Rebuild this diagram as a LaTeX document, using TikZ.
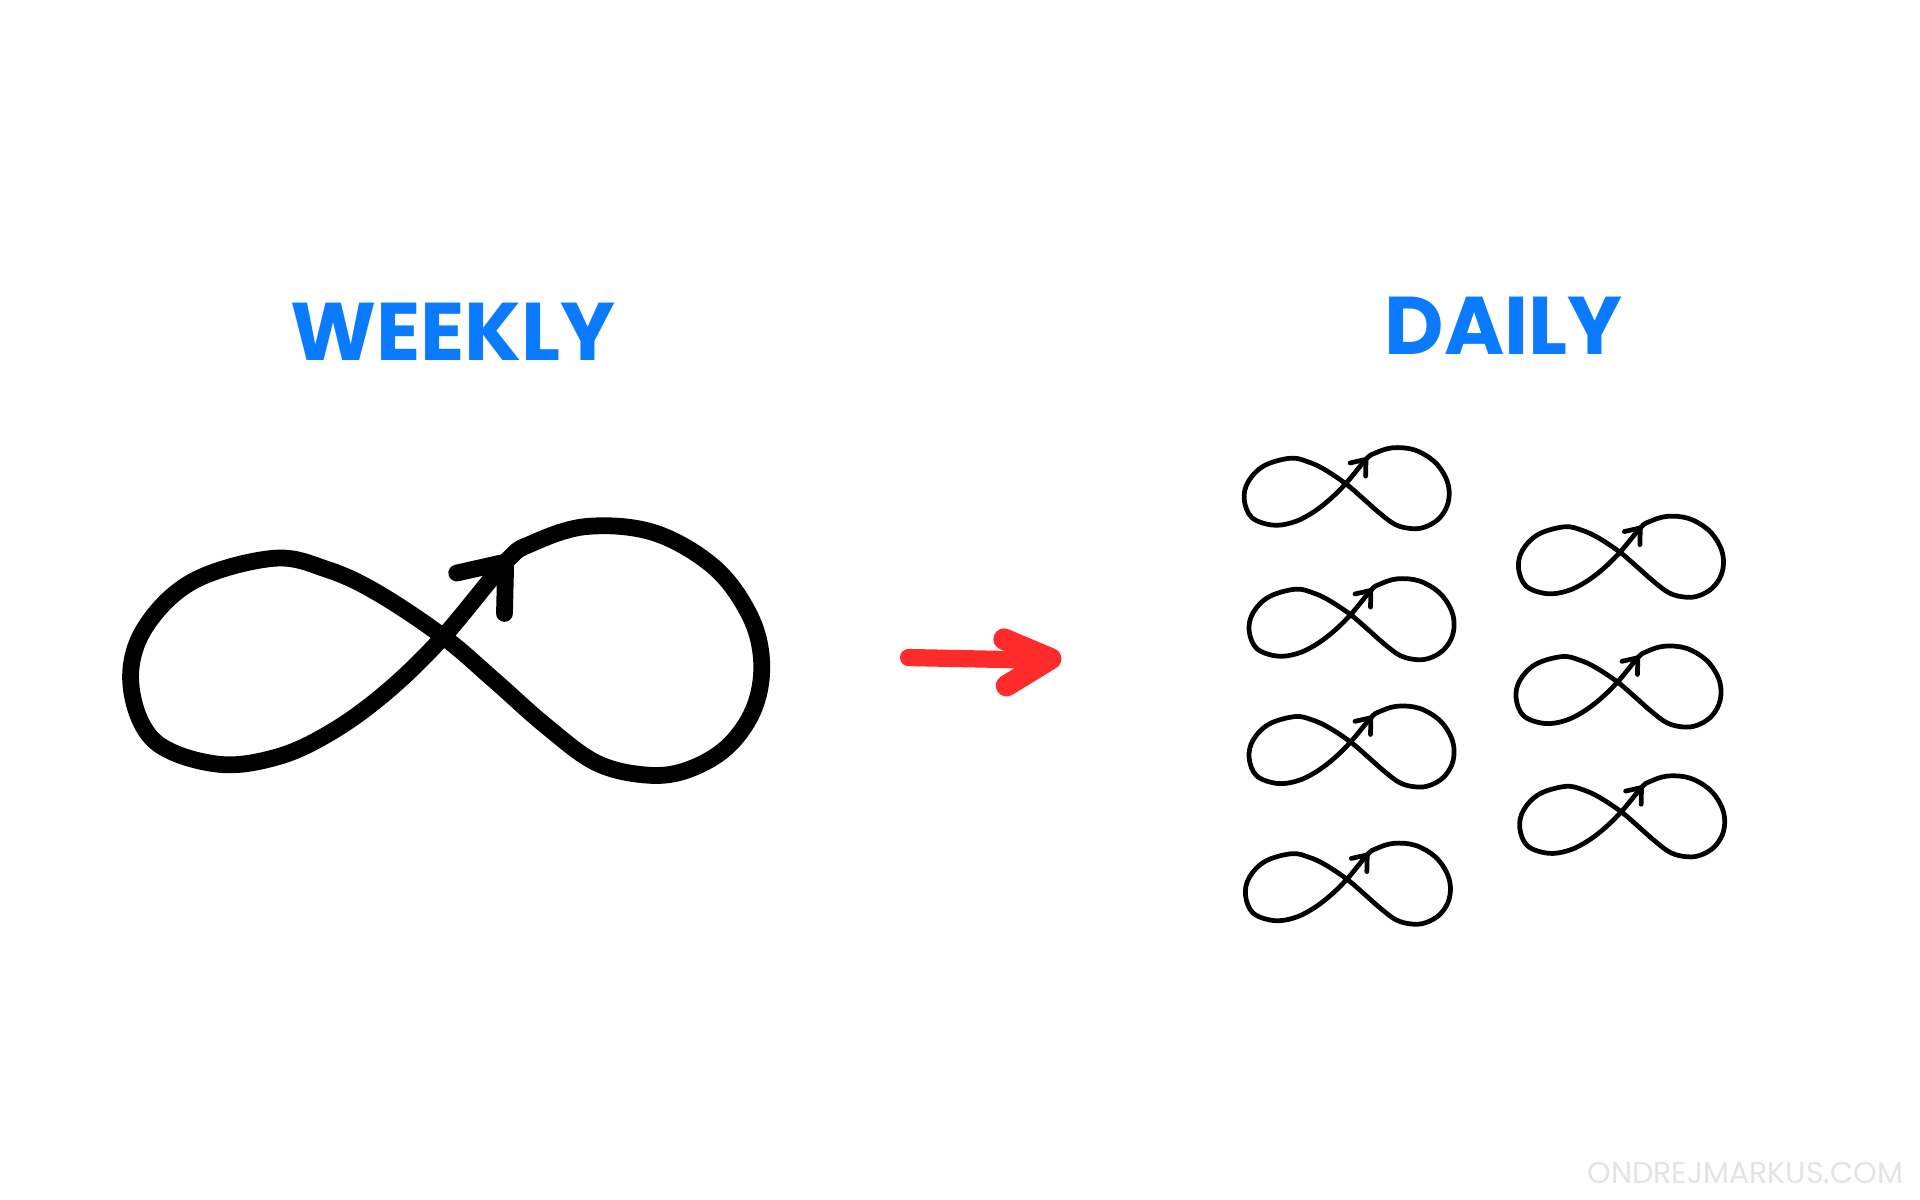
\documentclass[tikz,border=0pt]{standalone}
\usepackage{fontspec}
\setmainfont{Poppins}
\definecolor{labelblue}{HTML}{0A7BFF}
\definecolor{arrowred}{HTML}{FF2B2B}
\definecolor{markgray}{HTML}{E4E4E4}
\tikzset{
  loopline/.style={draw=black, line cap=round, line join=round},
  infty/.pic={
    \draw[loopline] plot[smooth cycle, tension=0.6] coordinates {(0,0) (51,-61) (72,-76) (117,-90) (172,-85) (221,-57) (250,-18) (260,20) (254,58) (232,90) (199,109) (166,113) (125,103) (84,73) (41,35) (0,0) (-54,-36) (-95,-55) (-139,-64) (-205,-45) (-245,-5) (-255,40) (-236,85) (-185,104) (-135,98) (-90,77) (-45,44)};
    \draw[loopline] (11,-52) -- (51,-61) -- (50,-19);
  },
  title/.style={text=labelblue, font=\fontsize{19}{21}\selectfont\bfseries},
}
\begin{document}
\begin{tikzpicture}[x=0.01cm, y=-0.01cm]
    \useasboundingbox[fill=white] (0,0) rectangle (1568,980);

    \node[title] (weekly) at (370,271) {WEEKLY};
    \node[title] (daily) at (1228,266) {DAILY};

    % one big loop
    \pic[line width=3.9pt] at (362,520) {infty};

    % the red arrow
    \draw[arrowred, line width=4pt, line cap=round] (742,537) -- (840,539);
    \draw[arrowred, line width=5pt, line cap=round, line join=round] (820,522) -- (858,538) -- (822,560);

    % many small loops
    \foreach \px/\py in {1099/395, 1103/502, 1103/606, 1100/718, 1323/451, 1321/557, 1324/663}
        \pic[scale=0.325, line width=1.1pt] at (\px,\py) {infty};

    \node[text=markgray, font=\fontsize{7}{8}\selectfont, anchor=east, inner sep=0pt] (mark) at (1555,958) {ONDREJMARKUS.COM};
\end{tikzpicture}
\end{document}
